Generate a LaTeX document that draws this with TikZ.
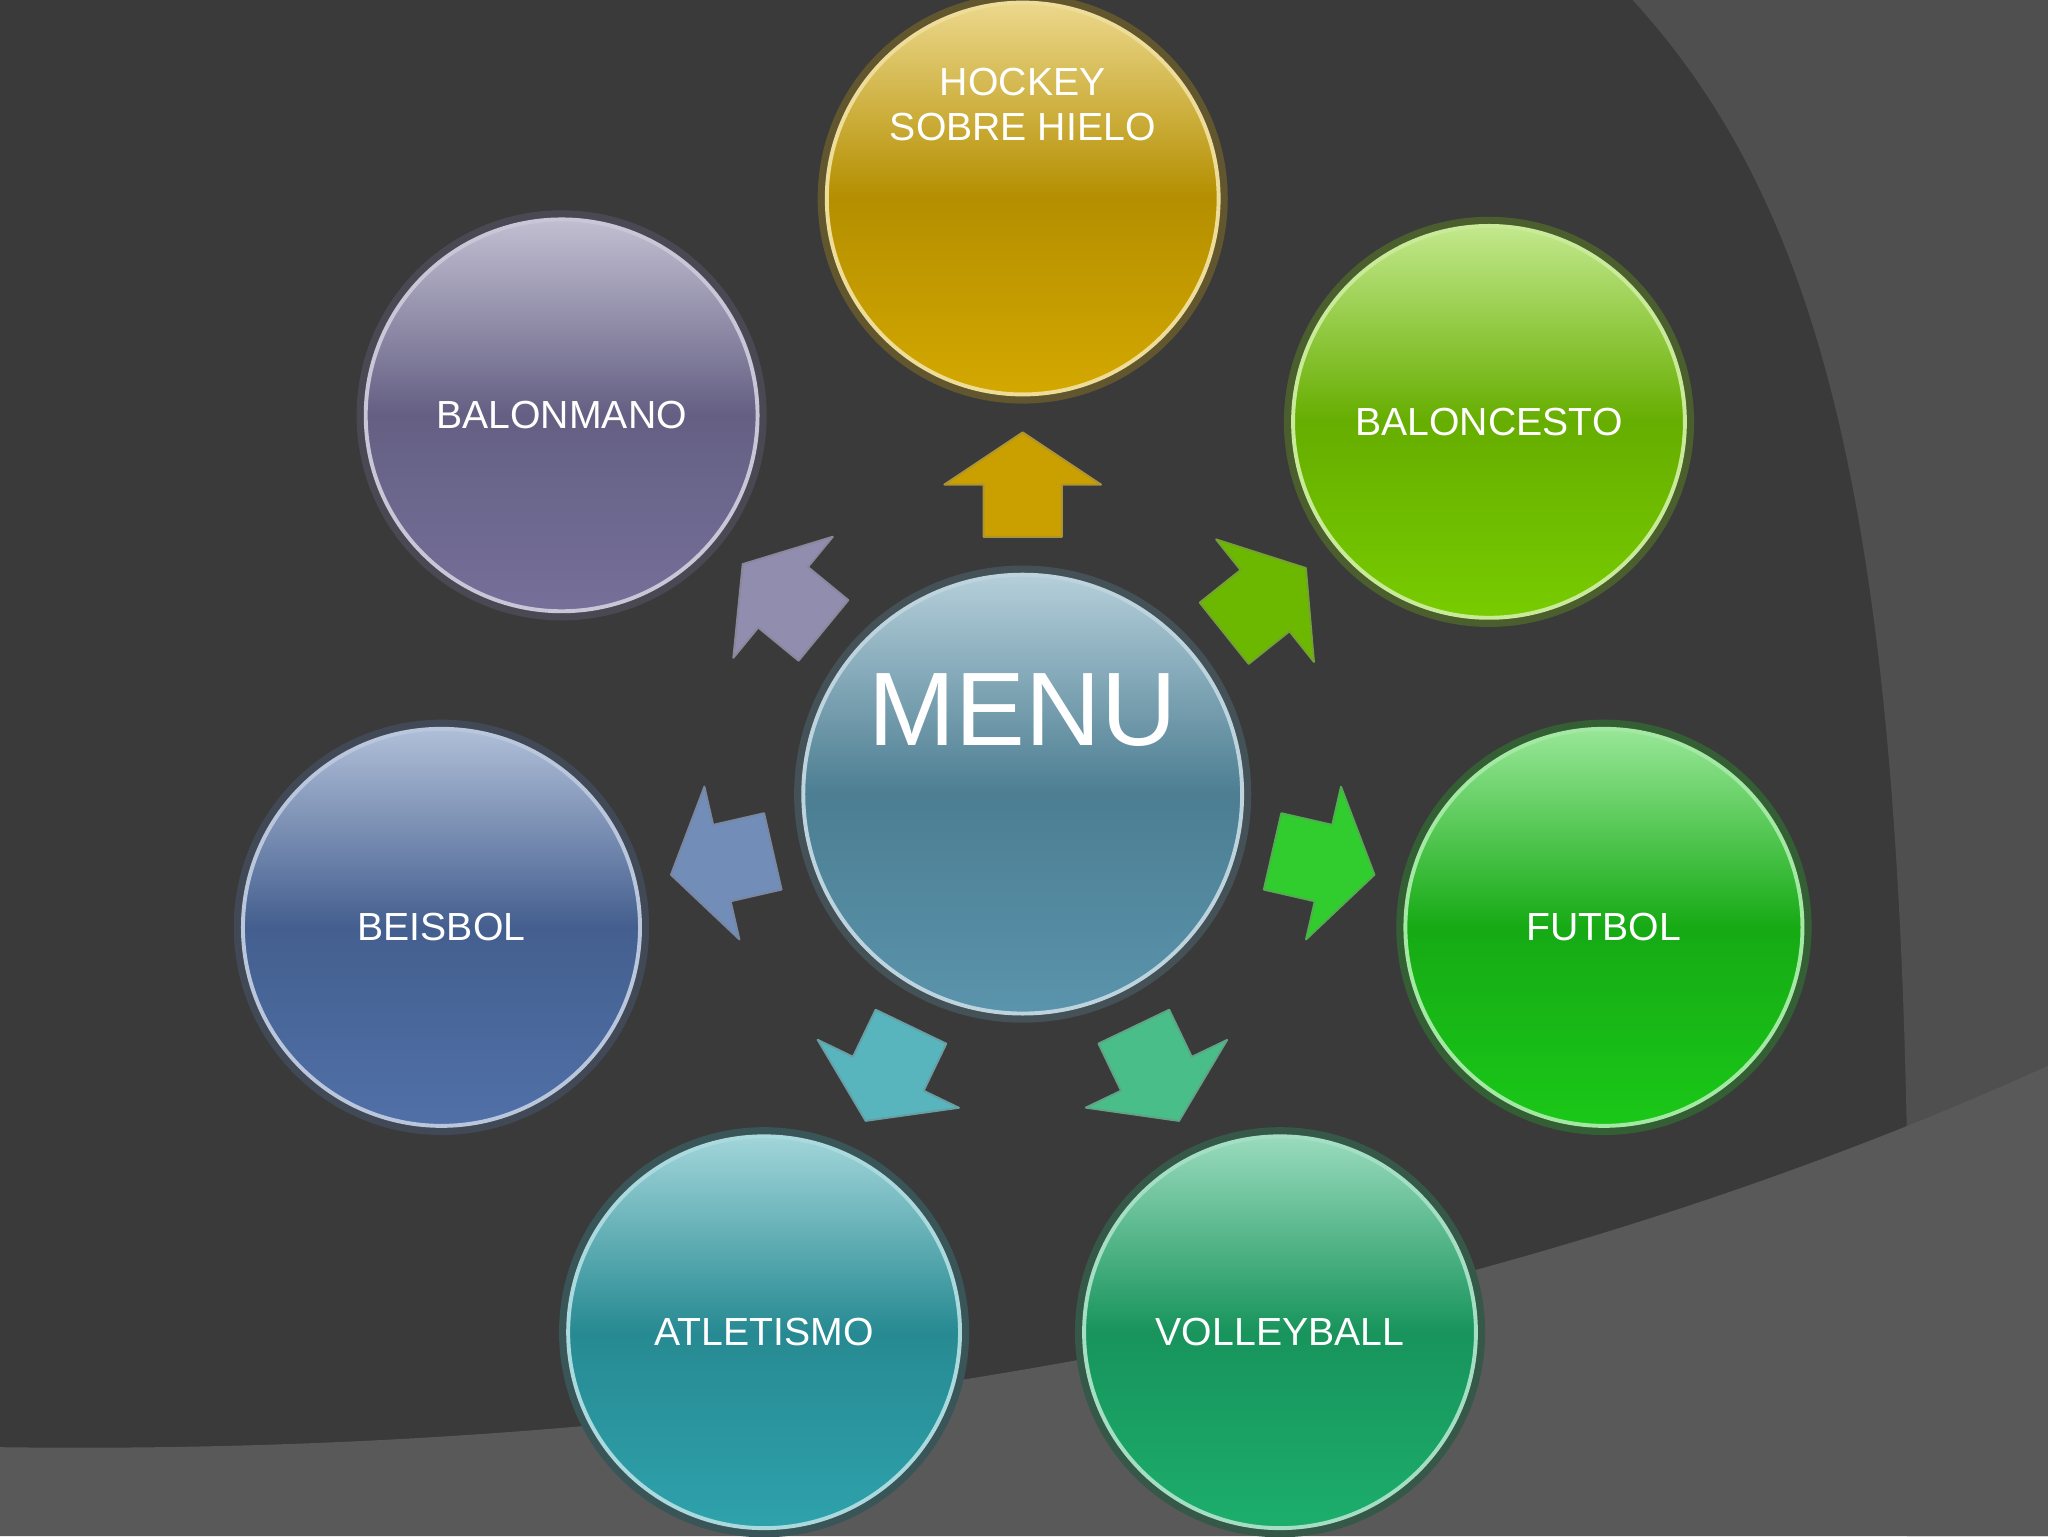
\documentclass[tikz,border=0pt]{standalone}
\usepackage{fontspec}
\setmainfont{Liberation Sans}
\begin{document}
\begin{tikzpicture}[x=1pt,y=1pt,
  ball/.style n args={3}{circle, minimum size=#1, inner sep=0pt, text=white, font=\fontsize{30}{34}\selectfont, align=center,
    preaction={draw=#3!40!gray!60!black, line width=14pt},
    top color=#3!45!white, bottom color=#3, middle color=#3!85!black, shading angle=0,
    draw=#3!40!white, line width=3pt},
  ]
\definecolor{bg}{HTML}{3A3A3B}
\definecolor{cHockey}{HTML}{D4A800}
\definecolor{cBasket}{HTML}{78CC00}
\definecolor{cFut}{HTML}{1AC818}
\definecolor{cVolley}{HTML}{1CAE6C}
\definecolor{cAtle}{HTML}{2EA2AC}
\definecolor{cBeis}{HTML}{5070A8}
\definecolor{cBalon}{HTML}{76709A}
\definecolor{cMenu}{HTML}{5A94AC}
\fill[bg] (0,0) rectangle (1568,1176);
\fill[gray!30!bg] (1250,1176) .. controls (1420,990) and (1470,700) .. (1460,0) -- (1568,0) -- (1568,1176) -- cycle;
\fill[gray!45!bg] (0,68) .. controls (600,60) and (1150,170) .. (1568,360) -- (1568,0) -- (0,0) -- cycle;
\useasboundingbox (0,0) rectangle (1568,1176);

\node[ball={336pt}{}{cMenu}, font=\fontsize{80}{90}\selectfont] (menu) at (783,568) {MENU\\[40pt]\mbox{}};
\node[ball={300pt}{}{cHockey}] (hockey) at (783,1024) {HOCKEY\\SOBRE HIELO\\[110pt]\mbox{}};
\node[ball={300pt}{}{cBasket}] (basket) at (1140,853) {BALONCESTO};
\node[ball={304pt}{}{cFut}] (futbol) at (1228,466) {FUTBOL};
\node[ball={300pt}{}{cVolley}] (volley) at (980,156) {VOLLEYBALL};
\node[ball={300pt}{}{cAtle}] (atle) at (585,156) {ATLETISMO};
\node[ball={304pt}{}{cBeis}] (beis) at (338,466) {BEISBOL};
\node[ball={300pt}{}{cBalon}] (balon) at (430,858) {BALONMANO};

\newcommand{\blkarrow}[3]{%
  \path (menu) -- (#1) coordinate[pos=0.5] (m#1);
  \begin{scope}[shift={(m#1)}, rotate=#2]
    \draw[fill=#3, draw=#3!60!gray, line width=1.5pt, line join=round]
      (-40,-30) -- (0,-30) -- (0,-60) -- (40,0) -- (0,60) -- (0,30) -- (-40,30) -- cycle;
  \end{scope}}
\blkarrow{hockey}{90}{cHockey!95!black}
\blkarrow{basket}{38.6}{cBasket!90!black}
\blkarrow{futbol}{-12.9}{cFut!90!white}
\blkarrow{volley}{-64.4}{cVolley!80!white}
\blkarrow{atle}{-115.7}{cAtle!80!white}
\blkarrow{beis}{192.9}{cBeis!80!white}
\blkarrow{balon}{140.6}{cBalon!80!white}
\end{tikzpicture}
\end{document}
